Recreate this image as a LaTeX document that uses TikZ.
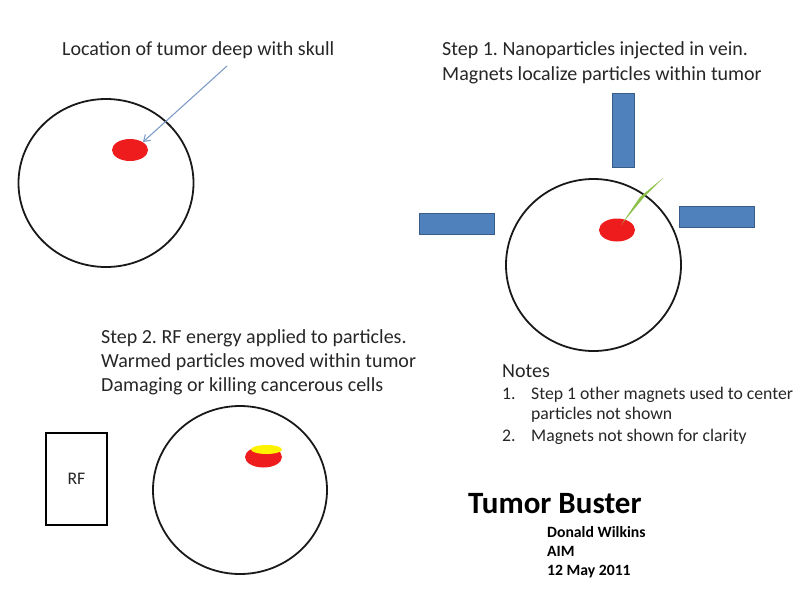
\documentclass[tikz,border=0pt]{standalone}
\usepackage{fontspec}
\setmainfont{Carlito}
\frenchspacing
\usetikzlibrary{shapes.geometric,arrows.meta}
\definecolor{txt}{HTML}{262626}
\definecolor{magfill}{HTML}{4F81BD}
\definecolor{magedge}{HTML}{385D8A}
\definecolor{arrowc}{HTML}{7F9DC8}
\definecolor{needle}{HTML}{8CC04A}
\definecolor{tumor}{HTML}{EE1C1C}
\definecolor{heat}{HTML}{FFF200}
\tikzset{
  head/.style={draw=black!90,line width=1.8pt},
  tumorblob/.style={ellipse,fill=tumor,draw=none,inner sep=0pt},
  magnet/.style={fill=magfill,draw=magedge,line width=1pt},
  lbl/.style={anchor=base west,inner sep=0pt,text=txt,font=\fontsize{20}{24}\selectfont},
  notes/.style={anchor=base west,inner sep=0pt,text=txt,font=\fontsize{17.7}{21}\selectfont},
  sig/.style={anchor=base west,inner sep=0pt,text=black,font=\bfseries\fontsize{15.7}{18}\selectfont},
}
\begin{document}
\begin{tikzpicture}[x=1pt,y=-1pt]
\useasboundingbox (0,0) rectangle (800,600);
% Panel 1
\draw[head] (106,183) ellipse [x radius=87.5,y radius=84];
\node[tumorblob,minimum width=36pt,minimum height=22pt] (t1) at (130,150) {};
\node[lbl] (l1) at (62,55) {Location of tumor deep with skull};
\coordinate (a1) at (227,66);
\draw[arrowc,line width=1.1pt,-{Straight Barb[length=6pt,width=8pt]}] (a1) -- (t1.north east);
% Panel 2
\node[lbl] (s1a) at (442,55) {Step 1. Nanoparticles injected in vein.};
\node[lbl] (s1b) at (442,80) {Magnets localize particles within tumor};
\draw[magnet] (612,93) rectangle (634,167);
\draw[magnet] (419,213) rectangle (494,234);
\draw[magnet] (679,206) rectangle (754,227);
\draw[head] (593.5,265) ellipse [x radius=87.5,y radius=86];
\node[tumorblob,minimum width=36pt,minimum height=23pt] (t2) at (617,230) {};
\fill[needle] (663,178) -- (645,196) -- (621,225) -- (640,197) -- cycle;
% Panel 3
\node[lbl] (s2a) at (101,343) {Step 2. RF energy applied to particles.};
\node[lbl] (s2b) at (101,367) {Warmed particles moved within tumor};
\node[lbl] (s2c) at (101,391) {Damaging or killing cancerous cells};
\node[draw=black,line width=1.8pt,minimum width=61pt,minimum height=92pt,inner sep=0pt,text=txt,font=\fontsize{17.7}{21}\selectfont] (rf) at (76.5,479) {RF};
\draw[head] (240,490) ellipse [x radius=87,y radius=84];
\node[tumorblob,minimum width=37pt,minimum height=21pt] (t3) at (263.5,457) {};
\node[ellipse,fill=heat,draw=none,inner sep=0pt,minimum width=31pt,minimum height=9pt] (h3) at (266.5,449.5) {};
% Notes
\node[notes,font=\fontsize{20}{24}\selectfont] (n0) at (502,377) {Notes};
\node[notes] (n1) at (502,399) {1.};
\node[notes] (n1t) at (531,399) {Step 1 other magnets used to center};
\node[notes] (n1u) at (531,419) {particles not shown};
\node[notes] (n2) at (502,441) {2.};
\node[notes] (n2t) at (531,441) {Magnets not shown for clarity};
% Title
\node[anchor=base west,inner sep=0pt,text=black,font=\bfseries\fontsize{31}{36}\selectfont] (title) at (468,513) {Tumor Buster};
\node[sig] (au) at (547,537) {Donald Wilkins};
\node[sig] (org) at (547,556) {AIM};
\node[sig] (dt) at (547,575) {12 May 2011};
\end{tikzpicture}
\end{document}
